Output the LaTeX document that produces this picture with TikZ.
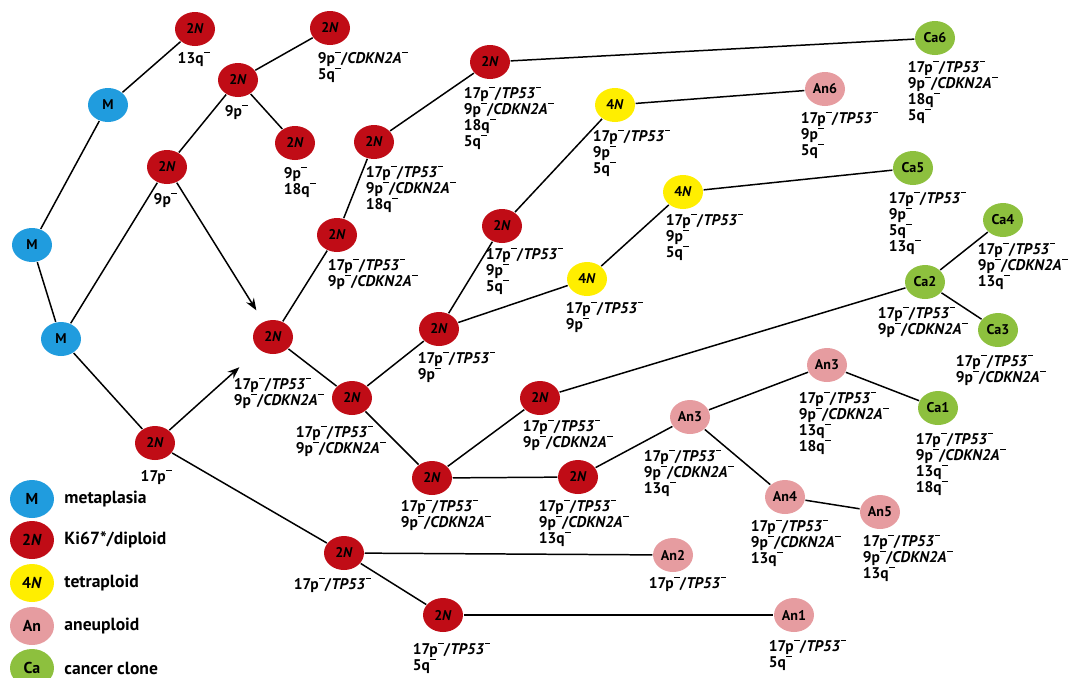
\documentclass[tikz,border=0pt]{standalone}
\usepackage{fontspec}
\setmainfont{PT Sans}
\usetikzlibrary{shapes.geometric, arrows.meta, positioning}

\definecolor{metablue}{RGB}{32,156,222}
\definecolor{diplred}{RGB}{192,12,22}
\definecolor{tetrayel}{RGB}{255,238,0}
\definecolor{aneupink}{RGB}{230,156,160}
\definecolor{cancgreen}{RGB}{141,192,62}

\newcommand{\ls}{\kern0.04em\rule[0.62em]{0.36em}{0.11em}}
\newcommand{\dip}{2\textit{N}}
\newcommand{\tet}{4\textit{N}}
\newcommand{\tp}{17p\ls/\textit{TP53}\ls}
\newcommand{\cdk}{9p\ls/\textit{CDKN2A}\ls}

\begin{document}
\begin{tikzpicture}[
        x=0.02cm, y=-0.02cm,
        % cell nodes: filled ellipses
        cell/.style={
                ellipse, inner sep=0pt,
                minimum width=0.8cm, minimum height=0.68cm,
                font=\fontsize{8}{9}\selectfont\bfseries
            },
        meta/.style={cell, fill=metablue},
        dipl/.style={cell, fill=diplred},
        tetra/.style={cell, fill=tetrayel},
        aneu/.style={cell, fill=aneupink},
        canc/.style={cell, fill=cancgreen},
        % karyotype text under a cell
        kary/.style={
                anchor=north west, inner sep=0pt, align=left,
                font=\fontsize{8.8}{9.1}\selectfont\bfseries
            },
        % legend
        legend/.style={cell, minimum width=0.88cm, minimum height=0.76cm,
                font=\fontsize{9}{10}\selectfont\bfseries},
        legtext/.style={anchor=west, inner sep=0pt,
                font=\fontsize{10}{12}\selectfont\bfseries},
        >=Stealth,
        line width=0.85pt
    ]
    \useasboundingbox (0,0) rectangle (1077,677);

    %% ---- Metaplasia ----
    \node[meta] (m1) at (108,105) {M};
    \node[meta] (m2) at (32,245) {M};
    \node[meta] (m3) at (61,339) {M};

    %% ---- Diploid clones ----
    \node[dipl] (d1) at (195,29) {\dip};
    \node[dipl] (d2) at (330,28) {\dip};
    \node[dipl] (d3) at (238,80) {\dip};
    \node[dipl] (d4) at (295,143) {\dip};
    \node[dipl] (d5) at (167,167) {\dip};
    \node[dipl] (d6) at (155,443) {\dip};
    \node[dipl] (d7) at (273,337) {\dip};
    \node[dipl] (d8) at (337,235) {\dip};
    \node[dipl] (d9) at (374,142) {\dip};
    \node[dipl] (d10) at (490,62) {\dip};
    \node[dipl] (d11) at (352,398) {\dip};
    \node[dipl] (d12) at (439,329) {\dip};
    \node[dipl] (d13) at (502,226) {\dip};
    \node[dipl] (d14) at (432,478) {\dip};
    \node[dipl] (d15) at (540,398) {\dip};
    \node[dipl] (d16) at (578,477) {\dip};
    \node[dipl] (d17) at (344,553) {\dip};
    \node[dipl] (d18) at (443,615) {\dip};

    %% ---- Tetraploid clones ----
    \node[tetra] (t1) at (615,105) {\tet};
    \node[tetra] (t2) at (683,192) {\tet};
    \node[tetra] (t3) at (587,279) {\tet};

    %% ---- Aneuploid clones ----
    \node[aneu] (a1) at (794,615) {An1};
    \node[aneu] (a2) at (673,555) {An2};
    \node[aneu] (a3) at (690,417) {An3};
    \node[aneu] (a3x) at (827,365) {An3};
    \node[aneu] (a4) at (785,497) {An4};
    \node[aneu] (a5) at (880,512) {An5};
    \node[aneu] (a6) at (825,89) {An6};

    %% ---- Cancer clones ----
    \node[canc] (c1) at (938,408) {Ca1};
    \node[canc] (c2) at (925,282) {Ca2};
    \node[canc] (c3) at (998,330) {Ca3};
    \node[canc] (c4) at (1003,220) {Ca4};
    \node[canc] (c5) at (913,168) {Ca5};
    \node[canc] (c6) at (935,38) {Ca6};

    %% ---- Karyotype labels ----
    \node[kary] (k-d1) at (177,51) {13q\ls};
    \node[kary] (k-d2) at (317,51) {\cdk\\5q\ls};
    \node[kary] (k-d3) at (224,104) {9p\ls};
    \node[kary] (k-d4) at (283,166) {9p\ls\\18q\ls};
    \node[kary] (k-d5) at (153,192) {9p\ls};
    \node[kary] (k-d6) at (140,469) {17p\ls};
    \node[kary] (k-d7) at (233,377) {\tp\\\cdk};
    \node[kary] (k-d8) at (327,258) {\tp\\\cdk};
    \node[kary] (k-d9) at (365,165) {\tp\\\cdk\\18q\ls};
    \node[kary] (k-d10) at (463,86) {\tp\\\cdk\\18q\ls\\5q\ls};
    \node[kary] (k-d11) at (295,425) {\tp\\\cdk};
    \node[kary] (k-d12) at (417,351) {\tp\\9p\ls};
    \node[kary] (k-d13) at (485,247) {\tp\\9p\ls\\5q\ls};
    \node[kary] (k-d14) at (400,499) {\tp\\\cdk};
    \node[kary] (k-d15) at (522,419) {\tp\\\cdk};
    \node[kary] (k-d16) at (538,499) {\tp\\\cdk\\13q\ls};
    \node[kary] (k-d17) at (293,577) {\tp};
    \node[kary] (k-d18) at (412,642) {\tp\\5q\ls};
    \node[kary] (k-t1) at (592,129) {\tp\\9p\ls\\5q\ls};
    \node[kary] (k-t2) at (665,213) {\tp\\9p\ls\\5q\ls};
    \node[kary] (k-t3) at (565,301) {\tp\\9p\ls};
    \node[kary] (k-a1) at (768,639) {\tp\\5q\ls};
    \node[kary] (k-a2) at (648,576) {\tp};
    \node[kary] (k-a3) at (643,449) {\tp\\\cdk\\13q\ls};
    \node[kary] (k-a3x) at (798,391) {\tp\\\cdk\\13q\ls\\18q\ls};
    \node[kary] (k-a4) at (750,519) {\tp\\\cdk\\13q\ls};
    \node[kary] (k-a5) at (862,534) {\tp\\\cdk\\13q\ls};
    \node[kary] (k-a6) at (800,111) {\tp\\9p\ls\\5q\ls};
    \node[kary] (k-c1) at (915,432) {\tp\\\cdk\\13q\ls\\18q\ls};
    \node[kary] (k-c2) at (877,306) {\tp\\\cdk};
    \node[kary] (k-c3) at (955,354) {\tp\\\cdk};
    \node[kary] (k-c4) at (977,242) {\tp\\\cdk\\13q\ls};
    \node[kary] (k-c5) at (888,191) {\tp\\9p\ls\\5q\ls\\13q\ls};
    \node[kary] (k-c6) at (907,60) {\tp\\\cdk\\18q\ls\\5q\ls};

    %% ---- Lineage ----
    \draw (m2) -- (m1);
    \draw (m2) -- (m3);
    \draw (m1) -- (d1);
    \draw (m3) -- (d5);
    \draw (m3) -- (d6);
    \draw (d5) -- (d3);
    \draw (d3) -- (d2);
    \draw (d3) -- (d4);
    \draw[->, shorten >=0.26cm] (d5) -- (d7);
    \draw[->, shorten >=0.52cm] (d6) -- (d7);
    \draw (d7) -- (d8);
    \draw (d8) -- (d9);
    \draw (d9) -- (d10);
    \draw (d10) -- (c6);
    \draw (d7) -- (d11);
    \draw (d11) -- (d12);
    \draw (d12) -- (d13);
    \draw (d13) -- (t1);
    \draw (t1) -- (a6);
    \draw (d12) -- (t3);
    \draw (t3) -- (t2);
    \draw (t2) -- (c5);
    \draw (d11) -- (d14);
    \draw (d14) -- (d15);
    \draw (d15) -- (c2);
    \draw (c2) -- (c4);
    \draw (c2) -- (c3);
    \draw (d14) -- (d16);
    \draw (d16) -- (a3);
    \draw (a3) -- (a3x);
    \draw (a3x) -- (c1);
    \draw (a3) -- (a4);
    \draw (a4) -- (a5);
    \draw (d6) -- (d17);
    \draw (d17) -- (a2);
    \draw (d17) -- (d18);
    \draw (d18) -- (a1);

    %% ---- Legend ----
    \node[legend, fill=metablue] (g1) at (32,499) {M};
    \node[legend, fill=diplred] (g2) at (32,540) {\dip};
    \node[legend, fill=tetrayel] (g3) at (32,583) {\tet};
    \node[legend, fill=aneupink] (g4) at (32,626) {An};
    \node[legend, fill=cancgreen] (g5) at (32,668) {Ca};
    \node[legtext, right=0.18cm of g1] (g1t) {metaplasia};
    \node[legtext, right=0.18cm of g2] (g2t) {Ki67*/diploid};
    \node[legtext, right=0.18cm of g3] (g3t) {tetraploid};
    \node[legtext, right=0.18cm of g4] (g4t) {aneuploid};
    \node[legtext, right=0.18cm of g5] (g5t) {cancer clone};

\end{tikzpicture}
\end{document}
